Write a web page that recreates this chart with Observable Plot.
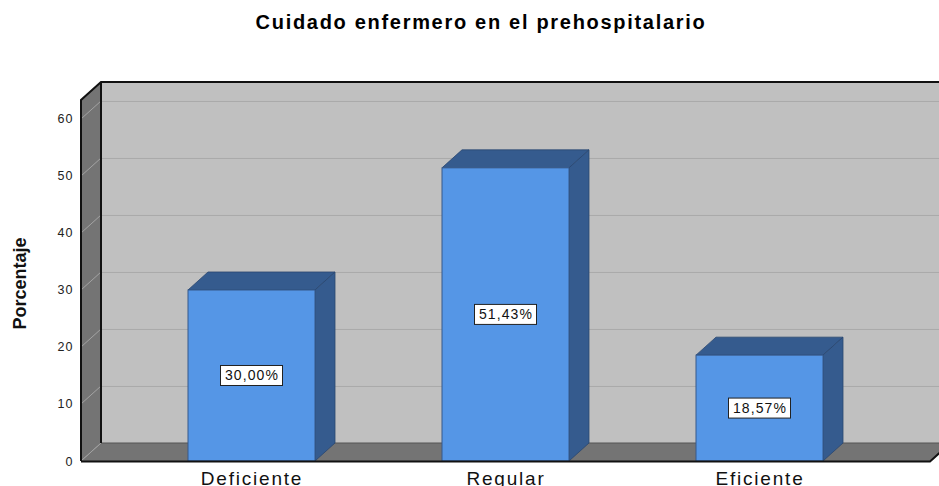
<!DOCTYPE html>
<html>
<head>
<meta charset="utf-8">
<script src="https://cdn.jsdelivr.net/npm/d3@7"></script>
<script src="https://cdn.jsdelivr.net/npm/@observablehq/plot@0.6"></script>
<style>
  body { margin: 0; background: #fff; font-family: "Liberation Sans", Arial, sans-serif; }
  #wrap { position: relative; width: 939px; height: 486px; overflow: hidden; }
  #title { position: absolute; top: 0; left: 481px; transform: translateX(-50%); white-space: nowrap;
           font-weight: bold; font-size: 20px; letter-spacing: 1.7px; line-height: 1; padding-top: 12px; color: #000; }
  #chart { position: absolute; top: 50px; left: 0; }
  #chart svg { font-family: "Liberation Sans", Arial, sans-serif; overflow: visible; }
</style>
</head>
<body>
<div id="wrap">
  <div id="title">Cuidado enfermero en el prehospitalario</div>
  <div id="chart"></div>
</div>
<script>
const categories = ["Deficiente", "Regular", "Eficiente"];
const values = [30.00, 51.43, 18.57];
const valueLabels = ["30,00%", "51,43%", "18,57%"];
const yTicks = [0, 10, 20, 30, 40, 50, 60];
const yMax = 63.33;
const yTitle = "Porcentaje";

const data = categories.map((c, i) => ({cat: c, value: values[i], label: valueLabels[i], half: values[i] / 2}));

const DX = 20, DY = -18;
const bandw = (x) => (typeof x.bandwidth === "function" ? x.bandwidth() : x.bandwidth);
const pts = (arr) => arr.map((p) => p.join(",")).join(" ");

// left wall, floor and their grid lines
function walls(index, scales, vals, dim) {
  const y = scales.y;
  const x0 = dim.marginLeft, x1 = dim.width - dim.marginRight;
  const yT = y(yMax), yB = y(0);
  const g = d3.create("svg:g");
  g.append("polygon").attr("points", pts([[x0, yT], [x0 + DX, yT + DY], [x0 + DX, yB + DY], [x0, yB]]))
    .attr("fill", "#747474");
  g.append("polygon").attr("points", pts([[x0, yB], [x0 + DX, yB + DY], [x1 + DX, yB + DY], [x1, yB]]))
    .attr("fill", "#747474");
  for (const t of yTicks) {
    g.append("line").attr("x1", x0).attr("y1", y(t)).attr("x2", x0 + DX).attr("y2", y(t) + DY)
      .attr("stroke", "#a3a3a3").attr("stroke-width", 1);
  }
  g.append("line").attr("x1", x0 + DX).attr("y1", yB + DY).attr("x2", x1 + DX).attr("y2", yB + DY)
    .attr("stroke", "#555").attr("stroke-width", 1);
  g.append("line").attr("x1", x0 + DX).attr("y1", yT + DY).attr("x2", x0 + DX).attr("y2", yB + DY)
    .attr("stroke", "#111").attr("stroke-width", 2);
  g.append("polyline").attr("points", pts([[x0, yB], [x0, yT], [x0 + DX, yT + DY], [x1 + DX, yT + DY]]))
    .attr("fill", "none").attr("stroke", "#111").attr("stroke-width", 2);
  return g.node();
}

// top and side faces of the bars
function barFaces(index, scales, vals, dim) {
  const x = scales.x, y = scales.y, w = bandw(x);
  const g = d3.create("svg:g");
  for (const d of data) {
    const xa = x(d.cat), xb = xa + w, yt = y(d.value), yb = y(0);
    g.append("polygon").attr("points", pts([[xa, yt], [xa + DX, yt + DY], [xb + DX, yt + DY], [xb, yt]]))
      .attr("fill", "#355b8e").attr("stroke", "#2a4670").attr("stroke-width", 0.8);
    g.append("polygon").attr("points", pts([[xb, yt], [xb + DX, yt + DY], [xb + DX, yb + DY], [xb, yb]]))
      .attr("fill", "#355b8e").attr("stroke", "#2a4670").attr("stroke-width", 0.8);
  }
  return g.node();
}

// front floor edge drawn over bars
function floorEdge(index, scales, vals, dim) {
  const y = scales.y;
  const x0 = dim.marginLeft, x1 = dim.width - dim.marginRight, yB = y(0);
  const g = d3.create("svg:g");
  g.append("polyline").attr("points", pts([[x0, yB + 0.5], [x1, yB + 0.5], [x1 + DX, yB + DY + 0.5]]))
    .attr("fill", "none").attr("stroke", "#111").attr("stroke-width", 2);
  return g.node();
}

// white boxes behind value labels
function labelBoxes(index, scales, vals, dim) {
  const x = scales.x, y = scales.y, w = bandw(x);
  const g = d3.create("svg:g");
  for (const d of data) {
    const cx = x(d.cat) + w / 2, cy = y(d.half);
    g.append("rect").attr("x", cx - 31).attr("y", cy - 10).attr("width", 62).attr("height", 20)
      .attr("fill", "#fff").attr("stroke", "#222").attr("stroke-width", 1);
  }
  return g.node();
}

const chart = Plot.plot({
  width: 939,
  height: 436,
  marginLeft: 81,
  marginRight: 9,
  marginTop: 50,
  marginBottom: 25,
  style: {background: "transparent", overflow: "visible"},
  x: {type: "band", domain: categories, range: [123.75, 887.25], paddingInner: 0.5, paddingOuter: 0.25, axis: null},
  y: {domain: [0, yMax], axis: null},
  marks: [
    Plot.frame({fill: "#c0c0c0", stroke: null, dx: DX, dy: DY}),
    Plot.ruleY(yTicks.slice(1), {stroke: "#a9a9a9", strokeWidth: 1, dx: DX, dy: DY}),
    walls,
    barFaces,
    Plot.barY(data, {x: "cat", y: "value", fill: "#5596e6", stroke: "#36598a", strokeWidth: 1}),
    floorEdge,
    labelBoxes,
    Plot.text(data, {x: "cat", y: "half", text: "label", fontSize: 14, fill: "#111"}),
    Plot.text(data, {x: "cat", y: 0, text: "cat", fontSize: 19, dy: 17, fill: "#111"}),
    Plot.axisY({ticks: yTicks, tickSize: 0, tickPadding: 8, fontSize: 12.5, label: null, fill: "#222"}),
    Plot.text([yTitle], {frameAnchor: "left", text: (d) => d, rotate: -90, textAnchor: "middle", dx: -61, dy: 2.5, fontSize: 18, fontWeight: "bold", fill: "#111"})
  ]
});
document.getElementById("chart").appendChild(chart);

// letter spacing to match the wide rendering of the reference
d3.select(chart).selectAll("text").each(function () {
  const t = this.textContent;
  if (categories.includes(t)) this.style.letterSpacing = "1.8px";
  else if (valueLabels.includes(t)) this.style.letterSpacing = "1.1px";
  else if (/^\d+$/.test(t)) this.style.letterSpacing = "1px";
});
</script>
</body>
</html>
